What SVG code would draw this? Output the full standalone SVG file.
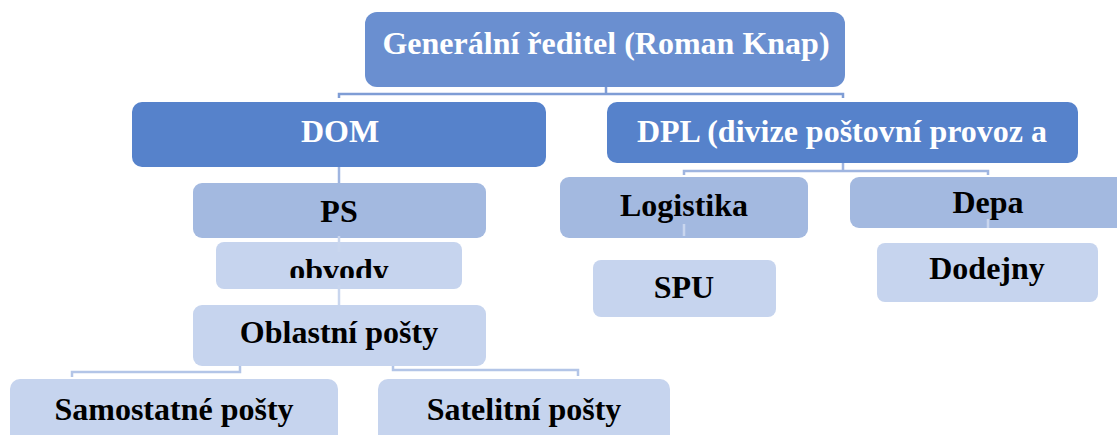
<svg xmlns="http://www.w3.org/2000/svg" width="1117" height="435" viewBox="0 0 1117 435">
  <style>
    .lvl0 { fill: #6A8FD0; }
    .lvl1 { fill: #5682CB; }
    .lvl2 { fill: #A3B9E0; }
    .lvl3 { fill: #C6D4EE; }
    text { font-family: "Liberation Serif", "Times New Roman", serif; font-weight: bold; font-size: 32px; text-anchor: middle; }
    .light { fill: #FFFFFF; }
    .dark { fill: #000000; }
    .c-main { stroke: #7F9DD5; stroke-width: 2.5; fill: none; }
    .c-mid { stroke: #9FB5E0; stroke-width: 2.5; fill: none; }
    .c-soft { stroke: #B3C5E7; stroke-width: 2.5; fill: none; }
    .c-over { stroke: #C9D6EE; stroke-width: 2.5; fill: none; }
  </style>
  <defs>
    <clipPath id="clip-obvody">
      <rect x="216" y="242" width="246" height="36"/>
    </clipPath>
  </defs>
  <rect width="1117" height="435" fill="#FFFFFF"/>

  <g id="node-reditel">
    <rect class="lvl0" x="365" y="12" width="480" height="75" rx="12"/>
    <text class="light" x="606" y="54">Generální ředitel (Roman Knap)</text>
  </g>

  <g id="node-dom">
    <rect class="lvl1" x="132" y="102" width="414" height="65" rx="10"/>
    <text class="light" x="340" y="142">DOM</text>
  </g>

  <g id="node-dpl">
    <rect class="lvl1" x="607" y="102" width="471" height="61" rx="10"/>
    <text class="light" x="842" y="142">DPL (divize poštovní provoz a</text>
  </g>

  <g id="node-ps">
    <rect class="lvl2" x="193" y="183" width="293" height="55" rx="9"/>
    <text class="dark" x="339" y="222">PS</text>
  </g>

  <g id="node-obvody">
    <rect class="lvl3" x="216" y="242" width="246" height="47" rx="8"/>
    <text class="dark" x="339" y="281" clip-path="url(#clip-obvody)">obvody</text>
  </g>

  <g id="node-oblastni">
    <rect class="lvl3" x="193" y="305" width="293" height="61" rx="9"/>
    <text class="dark" x="339" y="343">Oblastní pošty</text>
  </g>

  <g id="node-samostatne">
    <rect class="lvl3" x="10" y="379" width="328" height="66" rx="10"/>
    <text class="dark" x="174" y="420">Samostatné pošty</text>
  </g>

  <g id="node-satelitni">
    <rect class="lvl3" x="378" y="379" width="292" height="66" rx="10"/>
    <text class="dark" x="524" y="420">Satelitní pošty</text>
  </g>

  <g id="node-logistika">
    <rect class="lvl2" x="560" y="177" width="248" height="61" rx="9"/>
    <text class="dark" x="684" y="216">Logistika</text>
  </g>

  <g id="node-depa">
    <rect class="lvl2" x="850" y="177" width="290" height="51" rx="9"/>
    <text class="dark" x="988" y="213">Depa</text>
  </g>

  <g id="node-spu">
    <rect class="lvl3" x="593" y="260" width="183" height="57" rx="8"/>
    <text class="dark" x="684" y="298">SPU</text>
  </g>

  <g id="node-dodejny">
    <rect class="lvl3" x="877" y="243" width="221" height="59" rx="8"/>
    <text class="dark" x="987" y="279">Dodejny</text>
  </g>

  <g id="connectors">
    <!-- director to divisions -->
    <path class="c-main" d="M606 87 V94 M339 98 V94 H843 V98"/>
    <!-- DOM branch -->
    <path class="c-mid" d="M339 167 V183"/>
    <path class="c-over" d="M339 236 V252 M339 285 V305"/>
    <!-- DPL branch -->
    <path class="c-mid" d="M843 163 V171 M684 175 V171 H988 V175"/>
    <path class="c-over" d="M684 224 V236 M988 219 V228"/>
    <!-- regional offices to post offices -->
    <path class="c-soft" d="M240 366 V372 H72 V377"/>
    <path class="c-soft" d="M393 366 V370 H578 V376"/>
  </g>
</svg>
